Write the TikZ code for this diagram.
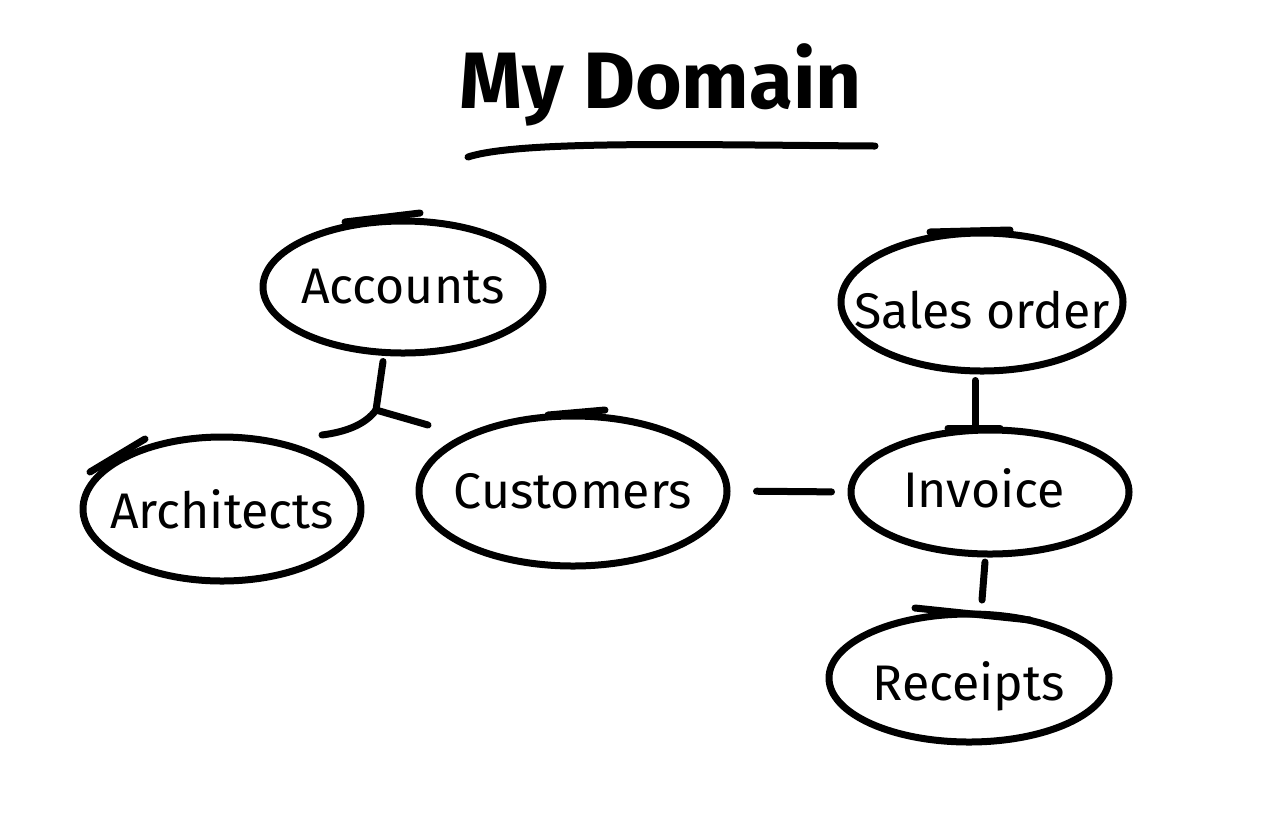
\documentclass[tikz,border=0pt]{standalone}
\usepackage{fontspec}
\setmainfont{Fira Sans}
\usetikzlibrary{shapes.geometric}
\begin{document}
\begin{tikzpicture}[x=0.5pt,y=-0.5pt,
  pen/.style={line width=3.5pt,line cap=round,line join=round,black},
  bubble/.style={pen,draw,shape=ellipse,inner sep=0pt},
  word/.style={font=\fontsize{25}{28}\selectfont,inner sep=0pt},
  tick/.style={pen}]
\useasboundingbox[fill=white] (0,0) rectangle (1280,816);
% title
\node[font=\fontsize{40}{46}\selectfont\bfseries] (title) at (661,85) {My Domain};
\coordinate (ulA) at (468,157);
\coordinate (ulB) at (875,146);
\draw[pen] (ulA) .. controls (520,140) and (700,145) .. (ulB);
% bubbles
\node[bubble,minimum width=140pt,minimum height=66pt,label={[word]center:Accounts}] (acc) at (403,287) {};
\node[bubble,minimum width=139pt,minimum height=72pt,label={[word]center:Architects}] (arch) at (222,509) {};
\node[bubble,minimum width=154pt,minimum height=75pt,label={[word]center:Customers}] (cust) at (573,491) {};
\node[bubble,minimum width=141pt,minimum height=69pt,label={[word,yshift=-4pt]center:Sales order}] (sales) at (982,302) {};
\node[bubble,minimum width=139pt,minimum height=62pt,label={[word,xshift=-3pt,yshift=2pt]center:Invoice}] (inv) at (990,492) {};
\node[bubble,minimum width=140pt,minimum height=64pt,label={[word,yshift=-4pt]center:Receipts}] (rec) at (969,678) {};
% overshoot strokes
\draw[tick] (345,222) -- (420,213);
\draw[tick] (90,472) -- (145,439);
\draw[tick] (548,415) -- (605,410);
\draw[tick] (930,232) -- (1010,230);
\draw[tick] (948,428) -- (1000,428);
\draw[tick] (915,608) -- (1030,620);
% connectors
\coordinate (j) at (376,410);
\coordinate (jl) at (322,435);
\coordinate (jr) at (428,425);
\draw[pen] (acc.south) ++(-20,5) coordinate (accb) -- (j);
\draw[pen] (jl) .. controls (345,432) and (365,425) .. (j);
\draw[pen] (j) -- (jr);
\draw[pen,shorten <=13pt,shorten >=8pt] (cust.east) -- (inv.west);
\draw[pen,shorten <=3pt,shorten >=1pt] (sales.south -| 975,0) -- (inv.north -| 975,0);
\coordinate (ir1) at (985,562);
\coordinate (ir2) at (982,600);
\draw[pen] (ir1) -- (ir2);
\end{tikzpicture}
\end{document}
